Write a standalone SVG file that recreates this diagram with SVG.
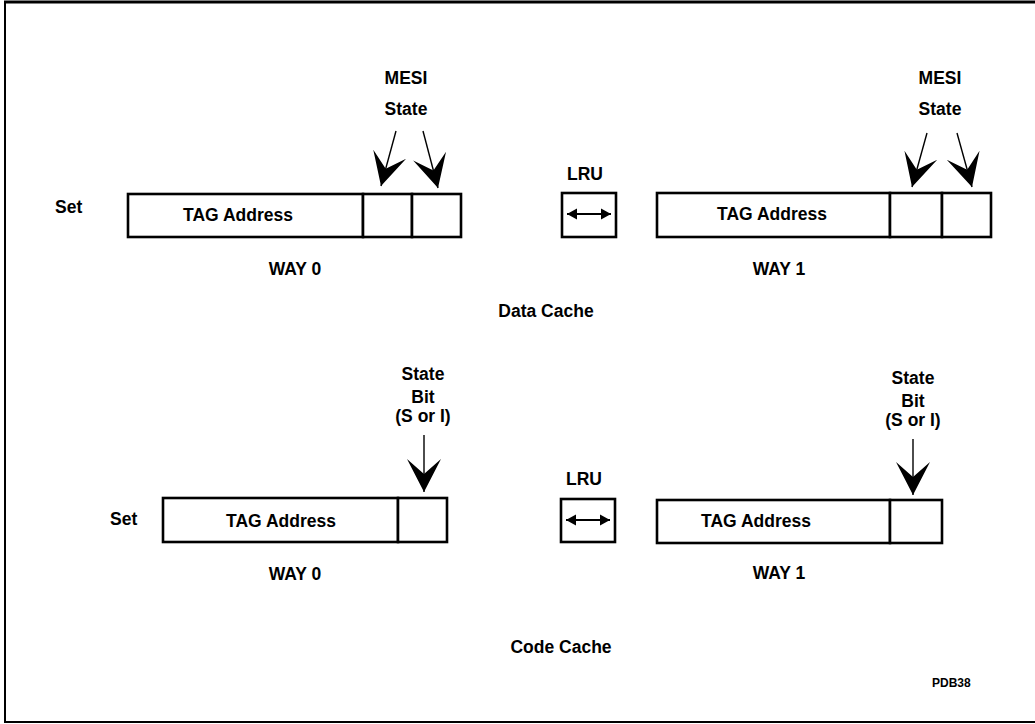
<svg xmlns="http://www.w3.org/2000/svg" width="1035" height="724" viewBox="0 0 1035 724">
<style>
  text { font-family: "Liberation Sans", Arial, sans-serif; font-weight: bold; fill: #000; }
  .lbl { font-size: 17.5px; }
  .mid { text-anchor: middle; }
  .box { fill: #fff; stroke: #000; stroke-width: 2.6; }
  .shaft { stroke: #000; stroke-width: 1.4; fill: none; }
  .lru { stroke: #000; stroke-width: 1.8; fill: none; }
  .frame { stroke: #000; fill: none; }
</style>
<defs>
  <marker id="big" markerUnits="userSpaceOnUse" viewBox="-35 -18 36 36" markerWidth="36" markerHeight="36" refX="0" refY="0" orient="auto">
    <path d="M0,0 L-33,-17 L-18,0 L-33,17 Z" fill="#000"/>
  </marker>
  <marker id="small" markerUnits="userSpaceOnUse" viewBox="-11 -6 12 12" markerWidth="12" markerHeight="12" refX="0" refY="0" orient="auto-start-reverse">
    <path d="M0,0 L-10,-5.5 L-10,5.5 Z" fill="#000"/>
  </marker>
</defs>
<rect width="1035" height="724" fill="#fff"/>
<g id="frame">
  <line class="frame" x1="4" y1="2" x2="1035" y2="2" stroke-width="3"/>
  <line class="frame" x1="5" y1="1" x2="5" y2="722" stroke-width="2"/>
  <line class="frame" x1="4" y1="722" x2="1035" y2="722" stroke-width="2" stroke="#555"/>
</g>

<!-- Data cache -->
<g id="data-way0">
  <text class="lbl" x="55" y="213">Set</text>
  <rect class="box" x="128" y="194" width="235" height="43"/>
  <rect class="box" x="363" y="194" width="49" height="43"/>
  <rect class="box" x="412" y="194" width="49" height="43"/>
  <text class="lbl mid" x="238" y="221">TAG Address</text>
  <text class="lbl mid" x="295" y="275">WAY 0</text>
  <text class="lbl mid" x="406" y="84">MESI</text>
  <text class="lbl mid" x="406" y="115">State</text>
</g>
<g id="data-lru">
  <text class="lbl mid" x="585" y="180">LRU</text>
  <rect class="box" x="562" y="193" width="54" height="44"/>
</g>
<g id="data-way1">
  <rect class="box" x="657" y="193" width="233" height="44"/>
  <rect class="box" x="890" y="193" width="52" height="44"/>
  <rect class="box" x="942" y="193" width="49" height="44"/>
  <text class="lbl mid" x="772" y="220">TAG Address</text>
  <text class="lbl mid" x="779" y="275">WAY 1</text>
  <text class="lbl mid" x="940" y="84">MESI</text>
  <text class="lbl mid" x="940" y="115">State</text>
</g>
<g id="data-title">
  <text class="lbl mid" x="546" y="317">Data Cache</text>
</g>

<!-- Code cache -->
<g id="code-way0">
  <text class="lbl" x="110" y="525">Set</text>
  <rect class="box" x="163" y="498" width="235" height="44"/>
  <rect class="box" x="398" y="498" width="49" height="44"/>
  <text class="lbl mid" x="281" y="527">TAG Address</text>
  <text class="lbl mid" x="295" y="580">WAY 0</text>
  <text class="lbl mid" x="423" y="380">State</text>
  <text class="lbl mid" x="423" y="403">Bit</text>
  <text class="lbl mid" x="423" y="422">(S or I)</text>
</g>
<g id="code-lru">
  <text class="lbl mid" x="584" y="485">LRU</text>
  <rect class="box" x="561" y="499" width="54" height="43"/>
</g>
<g id="code-way1">
  <rect class="box" x="657" y="500" width="233" height="43"/>
  <rect class="box" x="890" y="500" width="52" height="43"/>
  <text class="lbl mid" x="756" y="527">TAG Address</text>
  <text class="lbl mid" x="779" y="579">WAY 1</text>
  <text class="lbl mid" x="913" y="384">State</text>
  <text class="lbl mid" x="913" y="407">Bit</text>
  <text class="lbl mid" x="913" y="426">(S or I)</text>
</g>
<g id="code-title">
  <text class="lbl mid" x="561" y="653">Code Cache</text>
  <text x="932" y="687" font-size="12">PDB38</text>
</g>

<g id="connectors">
  <line class="shaft" x1="396" y1="131" x2="381" y2="186" marker-end="url(#big)"/>
  <line class="shaft" x1="423" y1="131" x2="438" y2="188" marker-end="url(#big)"/>
  <line class="shaft" x1="927" y1="133" x2="912" y2="187" marker-end="url(#big)"/>
  <line class="shaft" x1="957" y1="133" x2="972" y2="187" marker-end="url(#big)"/>
  <line class="shaft" x1="424" y1="435" x2="424" y2="492" marker-end="url(#big)"/>
  <line class="shaft" x1="913" y1="439" x2="913" y2="495" marker-end="url(#big)"/>
  <line class="lru" x1="567" y1="214" x2="611" y2="214" marker-start="url(#small)" marker-end="url(#small)"/>
  <line class="lru" x1="566" y1="520" x2="610" y2="520" marker-start="url(#small)" marker-end="url(#small)"/>
</g>
</svg>
